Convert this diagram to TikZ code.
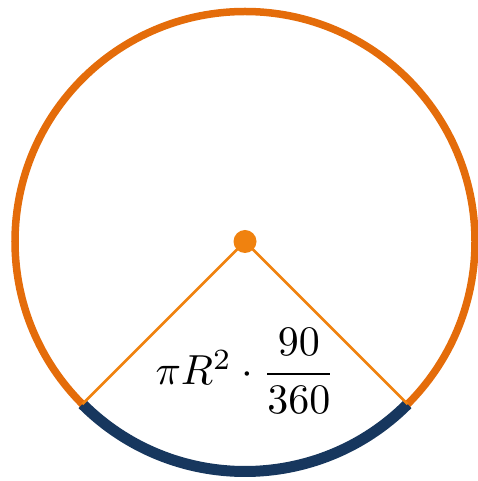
\documentclass[tikz,border=0pt]{standalone}
\usepackage{amsmath}
\usepackage{graphicx}
\usetikzlibrary{calc}
\definecolor{rimorange}{HTML}{E46C0A}
\definecolor{dotorange}{HTML}{F0820F}
\definecolor{arcnavy}{HTML}{17375E}
\begin{document}
\begin{tikzpicture}[x=1pt,y=1pt,
  rim/.style={draw=rimorange,line width=7.5pt},
  radius line/.style={draw=dotorange,line width=2.8pt},
  arcline/.style={draw=arcnavy,line width=11pt},
  centerdot/.style={circle,fill=dotorange,inner sep=0pt,minimum size=23pt}]
\useasboundingbox (0,0) rectangle (478,481);
\coordinate (c) at (245,239.5);
\coordinate (pl) at ($(c)+(225:230)$);
\coordinate (pr) at ($(c)+(315:230)$);
\draw[rim] (c) circle[radius=230];
\draw[arcline] (pl) arc[start angle=225,end angle=315,radius=230];
\draw[radius line] (pl) -- (c) -- (pr);
\node[centerdot] (dot) at (c) {};
\node (formula) at (245.5,110) {\scalebox{4.2}{$\pi R^2\cdot\dfrac{90}{360}$}};
\end{tikzpicture}
\end{document}
